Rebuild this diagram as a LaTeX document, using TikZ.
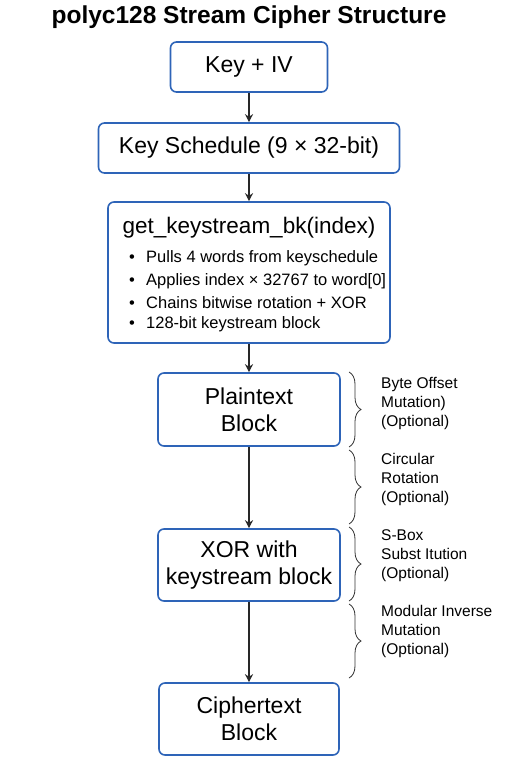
\documentclass[tikz,border=0pt]{standalone}
\usepackage{fontspec}
\setmainfont{Liberation Sans}
\usetikzlibrary{positioning}
\usetikzlibrary{arrows.meta, decorations.pathreplacing}
\definecolor{boxblue}{RGB}{46,100,184}
\definecolor{arrowgray}{RGB}{40,40,40}

\begin{document}
\begin{tikzpicture}[x=1pt, y=-1pt,
  box/.style={draw=boxblue, line width=1.6pt, rounded corners=6pt, fill=white, align=center, inner sep=0pt, font=\fontsize{23}{27}\selectfont},
  flow/.style={draw=arrowgray, line width=1.2pt, -{Stealth[length=8pt, width=8pt]}},
  bul/.style={anchor=west, inner sep=0pt, font=\fontsize{16.5}{20}\selectfont},
  note/.style={anchor=base west, align=left, inner sep=0pt, font=\fontsize{15.5}{19}\selectfont},
  curly/.style={decorate, decoration={brace, amplitude=12pt}, draw=black!80, line width=0.8pt}]

  \fill[white] (0,0) rectangle (512,768);
  \useasboundingbox (0,0) rectangle (512,768);

  \node[font=\bfseries\fontsize{24.5}{28}\selectfont] (title) at (249,17.5) {polyc128 Stream Cipher Structure};

  % main chain
  \node[box, minimum width=157pt, minimum height=50pt] (keyiv) at (249,67) {Key + IV};
  \node[box, minimum width=301pt, minimum height=50pt] (keysched) at (249,148) {Key Schedule (9 × 32-bit)};
  \node[box, minimum width=282pt, minimum height=141pt] (getks) at (249,272.5) {};
  \node[box, minimum width=182pt, minimum height=73pt] (plain) at (249,409.5) {Plaintext\\Block};
  \node[box, minimum width=182pt, minimum height=72pt] (xorks) at (249,565) {XOR with\\keystream block};
  \node[box, minimum width=180pt, minimum height=72pt] (cipher) at (249,719) {Ciphertext\\Block};

  % inside the keystream box
  \node[font=\fontsize{22.5}{26}\selectfont] (getkshead) at (249,228) {get\_keystream\_bk(index)};
  \node[bul] (pulls) at (129,258) {\makebox[17pt][l]{\textbullet}Pulls 4 words from keyschedule};
  \node[bul] (applies) at (129,281) {\makebox[17pt][l]{\textbullet}Applies index × 32767 to word[0]};
  \node[bul] (chains) at (129,303) {\makebox[17pt][l]{\textbullet}Chains bitwise rotation + XOR};
  \node[bul] (blockbits) at (129,324) {\makebox[17pt][l]{\textbullet}128-bit keystream block};

  \draw[flow] (keyiv) -- (keysched);
  \draw[flow] (keysched) -- (getks);
  \draw[flow] (getks) -- (plain);
  \draw[flow] (plain) -- (xorks);
  \draw[flow] (xorks) -- (cipher);

  % optional stages
  \draw[curly] (349,372) -- (349,447);
  \draw[curly] (349,450) -- (349,524);
  \draw[curly] (349,527) -- (349,601);
  \draw[curly] (349,604) -- (349,678);

  \node[note] (byteoff) at (381,426.5) {Byte Offset\\Mutation)\\(Optional)};
  \node[note] (circrot) at (381,502.5) {Circular\\Rotation\\(Optional)};
  \node[note] (sbox) at (381,578.5) {S-Box\\Subst Itution\\(Optional)};
  \node[note] (modinv) at (381,654.5) {Modular Inverse\\Mutation\\(Optional)};

\end{tikzpicture}
\end{document}
